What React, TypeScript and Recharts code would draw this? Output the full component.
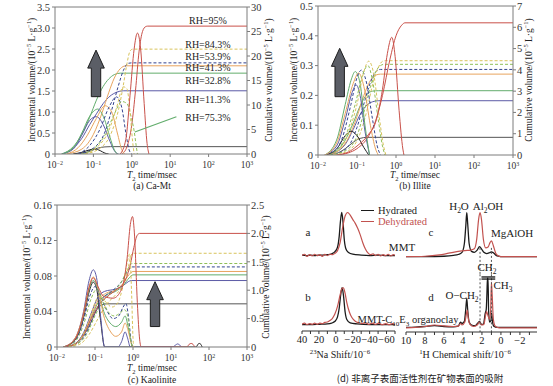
import React from "react";
import {
  ComposedChart,
  Line,
  XAxis,
  YAxis,
  ReferenceLine,
  ReferenceDot,
  Legend,
} from "recharts";

type Pt = [number, number];

// ---------- shared T2 axis ----------
const t2Ticks = [0.01, 0.1, 1, 10, 100, 1000];

// ---------- (a) Ca-Mt ----------
const caIncTicks = [0, 0.5, 1, 1.5, 2, 2.5, 3, 3.5];
const caCumTicks = [0, 5, 10, 15, 20, 25, 30];

const caInc0: Pt[] = [[0.03, 0], [0.05, 0.04], [0.08, 0.1], [0.11, 0.12], [0.15, 0.08], [0.2, 0.02], [0.25, 0]];
const caCum0: Pt[] = [[0.03, 0], [0.06, 0.25], [0.09, 0.7], [0.13, 1.2], [0.2, 1.45], [0.28, 1.5], [1000, 1.5]];
const caInc11: Pt[] = [[0.015, 0], [0.03, 0.12], [0.05, 0.45], [0.08, 0.8], [0.12, 0.89], [0.18, 0.7], [0.27, 0.3], [0.37, 0.05], [0.45, 0]];
const caCum11: Pt[] = [[0.015, 0], [0.03, 1.2], [0.05, 3.2], [0.08, 6], [0.12, 8.2], [0.18, 10.3], [0.27, 11.8], [0.4, 12.6], [0.6, 12.9], [1000, 12.9]];
const caInc32: Pt[] = [[0.015, 0], [0.03, 0.15], [0.05, 0.5], [0.08, 0.9], [0.13, 1.07], [0.19, 0.85], [0.27, 0.4], [0.35, 0.1], [0.42, 0]];
const caCum32: Pt[] = [[0.015, 0], [0.03, 1.5], [0.05, 4], [0.08, 7.5], [0.12, 11], [0.18, 13.8], [0.25, 15.3], [0.35, 16.2], [0.5, 16.5], [1000, 16.5]];
const caInc41: Pt[] = [[0.02, 0], [0.04, 0.15], [0.07, 0.45], [0.12, 0.85], [0.2, 1.15], [0.3, 1.0], [0.42, 0.5], [0.55, 0.1], [0.65, 0]];
const caCum41: Pt[] = [[0.02, 0], [0.05, 1], [0.1, 4], [0.17, 8.5], [0.25, 12.5], [0.35, 15.5], [0.5, 17.4], [0.7, 18], [1000, 18]];
const caInc53: Pt[] = [[0.04, 0], [0.08, 0.2], [0.15, 0.6], [0.25, 1.1], [0.4, 1.36], [0.55, 1.1], [0.7, 0.5], [0.85, 0.1], [1.0, 0]];
const caCum53: Pt[] = [[0.04, 0], [0.1, 1.2], [0.2, 4.5], [0.3, 9], [0.45, 14], [0.6, 17], [0.8, 18.5], [1, 18.6], [1000, 18.6]];
const caInc75: Pt[] = [[0.05, 0], [0.1, 0.12], [0.2, 0.45], [0.35, 0.95], [0.55, 1.25], [0.75, 1.2], [0.95, 0.9], [1.15, 0.55], [1.3, 0.2], [1.4, 0]];
const caInc84: Pt[] = [[0.06, 0], [0.12, 0.15], [0.25, 0.55], [0.4, 1.1], [0.6, 1.6], [0.75, 1.55], [0.9, 1.0], [1.05, 0.3], [1.15, 0]];
const caCum84: Pt[] = [[0.06, 0], [0.15, 1.2], [0.3, 4.5], [0.45, 9], [0.6, 14], [0.75, 18.5], [0.9, 21], [1.05, 21.4], [1000, 21.4]];
const caInc95: Pt[] = [[0.5, 0], [0.7, 0.35], [0.9, 1.4], [1.15, 2.5], [1.4, 2.88], [1.7, 2.5], [2.1, 1.2], [2.5, 0.25], [2.8, 0]];
const caCum95: Pt[] = [[0.55, 0], [0.75, 1.5], [1, 6], [1.25, 13], [1.55, 21], [1.9, 25], [2.3, 26], [2.6, 26.1], [1000, 26.1]];

const caRhLabels = ["RH=95%", "RH=84.3%", "RH=53.9%", "RH=41.3%", "RH=32.8%", "RH=11.3%", "RH=75.3%"];

// ---------- (b) Illite ----------
const ilIncTicks = [0, 0.1, 0.2, 0.3, 0.4, 0.5];
const ilCumTicks = [0, 1, 2, 3, 4, 5, 6, 7];

const ilInc0: Pt[] = [[0.015, 0], [0.03, 0.02], [0.05, 0.065], [0.07, 0.08], [0.1, 0.065], [0.15, 0.025], [0.2, 0]];
const ilCum0: Pt[] = [[0.015, 0], [0.03, 0.08], [0.05, 0.3], [0.08, 0.6], [0.12, 0.78], [0.18, 0.83], [1000, 0.83]];
const ilInc11: Pt[] = [[0.015, 0], [0.03, 0.03], [0.05, 0.12], [0.075, 0.21], [0.095, 0.235], [0.12, 0.2], [0.16, 0.08], [0.21, 0]];
const ilCum11: Pt[] = [[0.015, 0], [0.03, 0.15], [0.05, 0.5], [0.08, 1.2], [0.12, 1.9], [0.18, 2.35], [0.25, 2.5], [0.35, 2.55], [1000, 2.55]];
const ilInc32: Pt[] = [[0.015, 0], [0.03, 0.05], [0.05, 0.17], [0.07, 0.25], [0.09, 0.28], [0.12, 0.24], [0.16, 0.1], [0.21, 0]];
const ilCum32: Pt[] = [[0.015, 0], [0.03, 0.2], [0.05, 0.7], [0.08, 1.5], [0.12, 2.3], [0.18, 2.85], [0.25, 3.0], [0.35, 3.02], [1000, 3.02]];
const ilInc41: Pt[] = [[0.015, 0], [0.03, 0.04], [0.05, 0.14], [0.08, 0.24], [0.11, 0.275], [0.15, 0.23], [0.22, 0.1], [0.3, 0.02], [0.35, 0]];
const ilCum41: Pt[] = [[0.015, 0], [0.03, 0.15], [0.06, 0.8], [0.1, 1.8], [0.15, 2.8], [0.22, 3.5], [0.3, 3.75], [0.4, 3.8], [1000, 3.8]];
const ilInc53: Pt[] = [[0.02, 0], [0.04, 0.05], [0.07, 0.17], [0.1, 0.26], [0.13, 0.285], [0.17, 0.25], [0.25, 0.12], [0.33, 0.03], [0.4, 0]];
const ilCum53: Pt[] = [[0.02, 0], [0.04, 0.15], [0.07, 0.6], [0.1, 1.3], [0.15, 2.4], [0.22, 3.4], [0.3, 3.9], [0.4, 4.02], [1000, 4.02]];
const ilInc75: Pt[] = [[0.02, 0], [0.05, 0.06], [0.09, 0.17], [0.14, 0.27], [0.19, 0.3], [0.25, 0.25], [0.35, 0.12], [0.45, 0.03], [0.52, 0]];
const ilCum75: Pt[] = [[0.02, 0], [0.05, 0.2], [0.1, 0.9], [0.15, 2], [0.22, 3.2], [0.3, 3.9], [0.4, 4.2], [0.5, 4.26], [1000, 4.26]];
const ilInc84: Pt[] = [[0.025, 0], [0.05, 0.05], [0.1, 0.17], [0.15, 0.28], [0.2, 0.315], [0.27, 0.27], [0.37, 0.13], [0.48, 0.03], [0.55, 0]];
const ilCum84: Pt[] = [[0.025, 0], [0.06, 0.2], [0.12, 1], [0.18, 2.1], [0.25, 3.3], [0.35, 4.1], [0.45, 4.4], [0.55, 4.43], [1000, 4.43]];
const ilInc95: Pt[] = [[0.03, 0], [0.06, 0.01], [0.1, 0.03], [0.2, 0.07], [0.3, 0.11], [0.45, 0.22], [0.6, 0.34], [0.78, 0.395], [0.95, 0.33], [1.2, 0.15], [1.5, 0.02], [1.6, 0]];
const ilCum95: Pt[] = [[0.03, 0], [0.06, 0.1], [0.1, 0.3], [0.2, 0.9], [0.3, 1.6], [0.45, 2.8], [0.7, 4.5], [1, 5.6], [1.4, 6.1], [1.7, 6.21], [1000, 6.21]];

// ---------- (c) Kaolinite ----------
const kaIncTicks = [0, 0.04, 0.08, 0.12, 0.16];
const kaCumTicks = [0, 0.5, 1, 1.5, 2, 2.5];

const kaInc0: Pt[] = [[0.015, 0], [0.03, 0.008], [0.05, 0.033], [0.07, 0.062], [0.09, 0.073], [0.11, 0.066], [0.14, 0.03], [0.18, 0], [46, 0], [51, 0.003], [56, 0.004], [61, 0.003], [66, 0]];
const kaCum0: Pt[] = [[0.015, 0], [0.03, 0.05], [0.05, 0.2], [0.08, 0.45], [0.11, 0.65], [0.15, 0.74], [0.2, 0.76], [1000, 0.76]];
const kaInc11: Pt[] = [[0.015, 0], [0.03, 0.01], [0.05, 0.04], [0.07, 0.075], [0.09, 0.087], [0.11, 0.078], [0.14, 0.035], [0.18, 0], [0.4, 0], [0.5, 0.006], [0.62, 0.017], [0.72, 0.01], [0.85, 0], [11, 0], [13, 0.002], [15, 0.0035], [17, 0.002], [19, 0]];
const kaCum11: Pt[] = [[0.015, 0], [0.03, 0.06], [0.05, 0.25], [0.08, 0.6], [0.12, 0.88], [0.18, 0.98], [0.35, 1.02], [0.55, 1.08], [0.75, 1.15], [0.9, 1.17], [1000, 1.17]];
const kaInc32: Pt[] = [[0.015, 0], [0.03, 0.009], [0.05, 0.036], [0.07, 0.065], [0.09, 0.075], [0.12, 0.065], [0.17, 0.04], [0.25, 0.027], [0.35, 0.023], [0.5, 0.028], [0.62, 0.035], [0.75, 0.022], [0.9, 0.005], [1, 0]];
const kaCum32: Pt[] = [[0.015, 0], [0.03, 0.05], [0.05, 0.22], [0.08, 0.52], [0.12, 0.78], [0.2, 0.92], [0.35, 0.98], [0.55, 1.08], [0.8, 1.22], [1, 1.27], [1000, 1.27]];
const kaInc41: Pt[] = [[0.015, 0], [0.03, 0.01], [0.05, 0.038], [0.07, 0.068], [0.09, 0.079], [0.12, 0.066], [0.17, 0.035], [0.25, 0.018], [0.35, 0.012], [0.5, 0.017], [0.62, 0.027], [0.75, 0.018], [0.9, 0.004], [1, 0]];
const kaCum41: Pt[] = [[0.015, 0], [0.03, 0.05], [0.05, 0.22], [0.08, 0.55], [0.12, 0.82], [0.2, 0.95], [0.35, 1.0], [0.55, 1.12], [0.8, 1.28], [1, 1.33], [1000, 1.33]];
const kaInc53: Pt[] = [[0.015, 0], [0.03, 0.007], [0.05, 0.03], [0.07, 0.055], [0.1, 0.068], [0.14, 0.058], [0.2, 0.042], [0.3, 0.032], [0.42, 0.035], [0.55, 0.045], [0.65, 0.049], [0.78, 0.03], [0.9, 0.005], [0.95, 0]];
const kaCum53: Pt[] = [[0.015, 0], [0.03, 0.04], [0.06, 0.25], [0.1, 0.6], [0.16, 0.85], [0.3, 1.0], [0.5, 1.15], [0.7, 1.32], [0.95, 1.41], [1000, 1.41]];
const kaInc75: Pt[] = [[0.015, 0], [0.03, 0.006], [0.05, 0.025], [0.08, 0.055], [0.11, 0.065], [0.15, 0.055], [0.22, 0.04], [0.32, 0.035], [0.45, 0.038], [0.6, 0.042], [0.72, 0.035], [0.85, 0.01], [0.95, 0]];
const kaCum75: Pt[] = [[0.015, 0], [0.03, 0.04], [0.06, 0.22], [0.1, 0.55], [0.16, 0.8], [0.3, 0.97], [0.5, 1.15], [0.7, 1.35], [0.95, 1.47], [1000, 1.47]];
const kaInc84: Pt[] = [[0.02, 0], [0.04, 0.008], [0.07, 0.03], [0.1, 0.05], [0.13, 0.058], [0.18, 0.052], [0.28, 0.045], [0.4, 0.05], [0.55, 0.07], [0.7, 0.095], [0.82, 0.105], [0.92, 0.06], [1, 0.01], [1.05, 0]];
const kaCum84: Pt[] = [[0.02, 0], [0.04, 0.05], [0.07, 0.22], [0.12, 0.5], [0.2, 0.75], [0.35, 0.92], [0.55, 1.1], [0.75, 1.4], [0.9, 1.62], [1.0, 1.65], [1000, 1.65]];
const kaInc95: Pt[] = [[0.015, 0], [0.03, 0.009], [0.05, 0.037], [0.07, 0.067], [0.09, 0.078], [0.12, 0.068], [0.17, 0.057], [0.3, 0.055], [0.5, 0.065], [0.7, 0.1], [0.85, 0.138], [0.97, 0.147], [1.1, 0.125], [1.3, 0.05], [1.5, 0.008], [1.65, 0], [26, 0], [30, 0.003], [34, 0.004], [38, 0.003], [42, 0]];
const kaCum95: Pt[] = [[0.015, 0], [0.03, 0.05], [0.05, 0.22], [0.08, 0.5], [0.12, 0.72], [0.2, 0.88], [0.35, 1.0], [0.6, 1.15], [0.85, 1.45], [1.05, 1.75], [1.3, 1.97], [1.5, 2.0], [1000, 2.0]];

// ---------- (d) NMR spectra ----------
const naTicks = [40, 30, 20, 10, 0, -10, -20, -30, -40, -50, -60, -70];
const hTicks = [10, 9, 8, 7, 6, 5, 4, 3, 2, 1, 0, -1, -2, -3];
const legendOrder = ["Hydrated", "Dehydrated"];

const naMmtHyd: Pt[] = [[40, 0.02], [35, 0.01], [30, 0.02], [25, 0.01], [20, 0.02], [15, 0.02], [10, 0.03], [5, 0.05], [1, 0.1], [-2, 0.2], [-4, 0.45], [-5.5, 0.8], [-7, 1.0], [-8.5, 0.78], [-10, 0.38], [-12, 0.16], [-15, 0.08], [-20, 0.04], [-30, 0.02], [-40, 0.01], [-50, 0.02], [-60, 0.01], [-70, 0.01]];
const naMmtDeh: Pt[] = [[40, 0.01], [37, 0.04], [34, -0.01], [31, 0.03], [28, 0.0], [25, 0.04], [22, 0.01], [19, 0.03], [16, -0.01], [13, 0.04], [10, 0.01], [7, 0.04], [4, 0.03], [1, 0.06], [-2, 0.12], [-5, 0.3], [-8, 0.65], [-11, 0.92], [-14, 1.0], [-17, 0.94], [-20, 0.84], [-23, 0.75], [-26, 0.63], [-29, 0.48], [-32, 0.3], [-35, 0.16], [-38, 0.07], [-41, 0.03], [-44, 0.05], [-47, 0.01], [-50, 0.04], [-53, 0.0], [-56, 0.03], [-59, 0.01], [-62, 0.04], [-65, 0.0], [-68, 0.03], [-70, 0.02]];
const naOrgHyd: Pt[] = [[40, 0.01], [30, 0.01], [20, 0.02], [10, 0.03], [5, 0.05], [1, 0.1], [-2, 0.22], [-4, 0.45], [-6, 0.85], [-7.5, 1.0], [-9, 0.8], [-11, 0.35], [-13, 0.15], [-17, 0.06], [-25, 0.03], [-40, 0.01], [-55, 0.01], [-70, 0.01]];
const naOrgDeh: Pt[] = [[40, 0.02], [37, 0.05], [34, 0.01], [31, 0.04], [28, 0.02], [25, 0.05], [22, 0.02], [19, 0.05], [16, 0.04], [13, 0.07], [10, 0.08], [7, 0.12], [4, 0.18], [1, 0.3], [-2, 0.5], [-5, 0.8], [-7, 0.97], [-9, 1.0], [-11, 0.85], [-13, 0.6], [-16, 0.35], [-19, 0.2], [-23, 0.1], [-27, 0.06], [-31, 0.04], [-35, 0.06], [-39, 0.02], [-43, 0.05], [-47, 0.02], [-51, 0.05], [-55, 0.01], [-59, 0.04], [-63, 0.01], [-67, 0.04], [-70, 0.02]];

const hMmtHyd: Pt[] = [[10, 0], [8, 0], [6, 0.01], [5, 0.03], [4.5, 0.05], [4.1, 0.1], [3.85, 0.3], [3.7, 0.7], [3.6, 1.0], [3.5, 0.75], [3.35, 0.3], [3.1, 0.12], [2.8, 0.1], [2.5, 0.15], [2.25, 0.23], [2.05, 0.18], [1.8, 0.1], [1.5, 0.07], [1.2, 0.09], [1.0, 0.11], [0.8, 0.09], [0.5, 0.03], [0.2, 0.01], [0, 0], [-3.8, 0]];
const hMmtDeh: Pt[] = [[10, 0], [8, 0.01], [6.5, 0.04], [5.5, 0.08], [4.5, 0.12], [3.8, 0.14], [3.2, 0.15], [2.8, 0.18], [2.55, 0.4], [2.35, 0.85], [2.2, 1.0], [2.05, 0.85], [1.85, 0.4], [1.6, 0.2], [1.35, 0.22], [1.15, 0.32], [1.0, 0.36], [0.8, 0.25], [0.55, 0.08], [0.3, 0.02], [0, 0], [-3.8, 0]];
const hOrgHyd: Pt[] = [[10, 0.02], [9, 0.03], [8, 0.05], [7, 0.08], [6, 0.05], [5, 0.04], [4.5, 0.06], [4.25, 0.2], [4.1, 0.15], [3.85, 0.22], [3.7, 0.65], [3.6, 1.0], [3.5, 0.6], [3.35, 0.2], [3.1, 0.1], [2.7, 0.08], [2.4, 0.18], [2.25, 0.22], [2.05, 0.12], [1.85, 0.12], [1.65, 0.5], [1.55, 0.62], [1.47, 1.2], [1.42, 1.68], [1.36, 1.68], [1.3, 0.6], [1.2, 0.2], [1.05, 0.25], [0.98, 0.5], [0.9, 0.25], [0.75, 0.06], [0.4, 0.02], [0, 0.02], [-3.8, 0.02]];
const hOrgDeh: Pt[] = [[10, 0.0], [9, 0.02], [8, 0.05], [7, 0.1], [6, 0.07], [5, 0.05], [4.5, 0.06], [4.25, 0.15], [4.1, 0.1], [3.8, 0.2], [3.65, 0.45], [3.55, 0.6], [3.45, 0.35], [3.25, 0.12], [2.9, 0.05], [2.5, 0.1], [2.25, 0.2], [2.05, 0.1], [1.8, 0.12], [1.6, 0.45], [1.5, 0.55], [1.4, 0.45], [1.2, 0.3], [1.08, 0.6], [1.0, 1.55], [0.92, 1.1], [0.8, 0.3], [0.6, 0.06], [0.3, 0.01], [0, 0], [-3.8, 0]];

// ---------- styles ----------
const serif = "'Liberation Serif', 'DejaVu Serif', serif";
const axisGray = "#7d7d7d";
const hydColor = "#1b1b1b";
const dehColor = "#c2524f";

const rhStyle: Record<string, { stroke: string; dash?: string }> = {
  "95": { stroke: "#c9514a" },
  "84.3": { stroke: "#d8c35c", dash: "3 2" },
  "75.3": { stroke: "#8fbf58", dash: "3 2" },
  "53.9": { stroke: "#34448f", dash: "3 2" },
  "41.3": { stroke: "#e8a45e" },
  "32.8": { stroke: "#62ad6c" },
  "11.3": { stroke: "#5b5aa6" },
  "0": { stroke: "#222222" },
};

type Series = { rh: string; inc: Pt[]; cum?: Pt[] };

const caSeries: Series[] = [
  { rh: "0", inc: caInc0, cum: caCum0 },
  { rh: "11.3", inc: caInc11, cum: caCum11 },
  { rh: "32.8", inc: caInc32, cum: caCum32 },
  { rh: "41.3", inc: caInc41, cum: caCum41 },
  { rh: "53.9", inc: caInc53, cum: caCum53 },
  { rh: "75.3", inc: caInc75 },
  { rh: "84.3", inc: caInc84, cum: caCum84 },
  { rh: "95", inc: caInc95, cum: caCum95 },
];
const ilSeries: Series[] = [
  { rh: "0", inc: ilInc0, cum: ilCum0 },
  { rh: "11.3", inc: ilInc11, cum: ilCum11 },
  { rh: "32.8", inc: ilInc32, cum: ilCum32 },
  { rh: "41.3", inc: ilInc41, cum: ilCum41 },
  { rh: "53.9", inc: ilInc53, cum: ilCum53 },
  { rh: "75.3", inc: ilInc75, cum: ilCum75 },
  { rh: "84.3", inc: ilInc84, cum: ilCum84 },
  { rh: "95", inc: ilInc95, cum: ilCum95 },
];
const kaSeries: Series[] = [
  { rh: "0", inc: kaInc0, cum: kaCum0 },
  { rh: "11.3", inc: kaInc11, cum: kaCum11 },
  { rh: "32.8", inc: kaInc32, cum: kaCum32 },
  { rh: "41.3", inc: kaInc41, cum: kaCum41 },
  { rh: "53.9", inc: kaInc53, cum: kaCum53 },
  { rh: "75.3", inc: kaInc75, cum: kaCum75 },
  { rh: "84.3", inc: kaInc84, cum: kaCum84 },
  { rh: "95", inc: kaInc95, cum: kaCum95 },
];

const t2Rows = (pts: Pt[]) => pts.map(([t, v]) => ({ t, v }));
const shiftRows = (pts: Pt[]) => pts.map(([s, v]) => ({ s, v }));
const fmt = (d: number) => (v: number) => (v === 0 ? "0" : v.toFixed(d));
const minus = (v: number) => (v < 0 ? `−${-v}` : `${v}`);

const PowTick = (p: any) => {
  const e = Math.round(Math.log10(p.payload.value));
  return (
    <text x={p.x} y={p.y + 9} textAnchor="middle" fontSize={9.5} fill="#333">
      10
      <tspan dy={-3.5} fontSize={6}>{minus(e)}</tspan>
    </text>
  );
};

const shiftTick = (step: number) => (p: any) => {
  const v = p.payload.value;
  if (v % step !== 0) return <g />;
  return (
    <text x={p.x} y={p.y + 7} textAnchor="middle" fontSize={10.5} fill="#222">
      {minus(v)}
    </text>
  );
};

// gray block arrow drawn along a vertical reference segment
const BlockArrow = (p: any) => {
  const cx = p.x1;
  const top = Math.min(p.y1, p.y2);
  const bot = Math.max(p.y1, p.y2);
  const hw = 8.3, sw = 4.7, hl = 18;
  const pts = [
    [cx, top], [cx + hw, top + hl], [cx + sw, top + hl], [cx + sw, bot],
    [cx - sw, bot], [cx - sw, top + hl], [cx - hw, top + hl],
  ].map((q) => q.join(",")).join(" ");
  return <polygon points={pts} fill="#5b5e66" stroke="#1e1e1e" strokeWidth={1} />;
};

function T2Panel({ box, margin, series, incTicks, incDigits, cumTicks, cumDigits, children }: any) {
  return (
    <div style={{ position: "absolute", left: box[0], top: box[1] }}>
      <ComposedChart width={box[2]} height={box[3]} margin={margin}>
        <XAxis
          type="number"
          dataKey="t"
          scale="log"
          domain={[0.01, 1000]}
          allowDataOverflow
          ticks={t2Ticks}
          interval={0}
          height={20}
          tickSize={3}
          stroke={axisGray}
          tick={PowTick}
        />
        <YAxis
          yAxisId="inc"
          type="number"
          domain={[0, incTicks[incTicks.length - 1]]}
          allowDataOverflow
          ticks={incTicks}
          interval={0}
          width={40}
          tickSize={3}
          stroke={axisGray}
          tickFormatter={fmt(incDigits)}
          tick={{ fontSize: 10.5, fill: "#333" }}
        />
        <YAxis
          yAxisId="cum"
          orientation="right"
          type="number"
          domain={[0, cumTicks[cumTicks.length - 1]]}
          allowDataOverflow
          ticks={cumTicks}
          interval={0}
          width={28}
          tickSize={3}
          tickMargin={1}
          stroke={axisGray}
          tickFormatter={fmt(cumDigits)}
          tick={{ fontSize: 10.5, fill: "#333" }}
        />
        <ReferenceLine yAxisId="inc" y={incTicks[incTicks.length - 1]} stroke={axisGray} />
        {series
          .filter((s: Series) => s.cum)
          .map((s: Series) => (
            <Line
              key={"c" + s.rh}
              yAxisId="cum"
              data={t2Rows(s.cum as Pt[])}
              dataKey="v"
              type="monotone"
              dot={false}
              isAnimationActive={false}
              stroke={s.rh === "0" ? "#555" : rhStyle[s.rh].stroke}
              strokeDasharray={rhStyle[s.rh].dash}
              strokeWidth={1}
            />
          ))}
        {series.map((s: Series) => (
          <Line
            key={"i" + s.rh}
            yAxisId="inc"
            data={t2Rows(s.inc)}
            dataKey="v"
            type="monotone"
            dot={false}
            isAnimationActive={false}
            stroke={rhStyle[s.rh].stroke}
            strokeDasharray={rhStyle[s.rh].dash}
            strokeWidth={1}
          />
        ))}
        {children}
      </ComposedChart>
    </div>
  );
}

function SpecChart({ box, margin, xDomain, yDomain, ticks, step, showAxis, hyd, deh, children }: any) {
  return (
    <div style={{ position: "absolute", left: box[0], top: box[1] }}>
      <ComposedChart width={box[2]} height={box[3]} margin={margin}>
        <XAxis
          type="number"
          dataKey="s"
          domain={xDomain}
          reversed
          allowDataOverflow
          hide={!showAxis}
          ticks={ticks}
          interval={0}
          height={20}
          tickSize={3}
          stroke="#333"
          tick={shiftTick(step)}
        />
        <YAxis hide type="number" domain={yDomain} allowDataOverflow />
        <Line name="Hydrated" data={shiftRows(hyd)} dataKey="v" type="monotone" dot={false} isAnimationActive={false} stroke={hydColor} strokeWidth={1.3} />
        <Line name="Dehydrated" data={shiftRows(deh)} dataKey="v" type="monotone" dot={false} isAnimationActive={false} stroke={dehColor} strokeWidth={1.2} />
        {children}
      </ComposedChart>
    </div>
  );
}

const SpecLegend = (p: any) => {
  const items = [...(p.payload || [])].sort(
    (a: any, b: any) => legendOrder.indexOf(a.value) - legendOrder.indexOf(b.value)
  );
  return (
    <div style={{ fontSize: 10.5, lineHeight: "11px", fontFamily: serif }}>
      {items.map((e: any) => (
        <div key={e.value} style={{ display: "flex", alignItems: "center", height: 11, color: e.color }}>
          <span style={{ width: 13, height: 0, borderTop: `1.5px solid ${e.color}`, marginRight: 4 }} />
          {e.value}
        </div>
      ))}
    </div>
  );
};

const Sup = ({ children }: any) => <sup style={{ fontSize: "0.68em", lineHeight: 0 }}>{children}</sup>;
const Sub = ({ children }: any) => <sub style={{ fontSize: "0.68em", lineHeight: 0 }}>{children}</sub>;

const Note = ({ x, y, size = 10, rot = false, color, children }: any) => (
  <div
    style={{
      position: "absolute",
      left: x,
      top: y,
      fontSize: size,
      lineHeight: 1,
      whiteSpace: "nowrap",
      color,
      transform: `translate(-50%, -50%)${rot ? " rotate(-90deg)" : ""}`,
    }}
  >
    {children}
  </div>
);

const volTitle = (kind: string) => (
  <>
    {kind} volume/(10<Sup>−5</Sup> L·g<Sup>−1</Sup>)
  </>
);
const t2Title = (
  <>
    <i>T</i>
    <Sub>2</Sub> time/msec
  </>
);

// annotation anchors (data coordinates)
const caLabelT2 = 96;
const caLabelCum = [27.3, 22.4, 19.9, 17.6, 15.1, 11.2, 7.4];

export default function App() {
  return (
    <div
      style={{
        position: "absolute",
        left: 0,
        top: 0,
        width: 553,
        height: 386,
        background: "#fff",
        overflow: "hidden",
        fontFamily: serif,
        color: "#222",
      }}
    >
      <T2Panel
        box={[0, 0, 280, 190]}
        margin={{ top: 7, right: 5, bottom: 16, left: 15 }}
        series={caSeries}
        incTicks={caIncTicks}
        incDigits={1}
        cumTicks={caCumTicks}
        cumDigits={0}
      >
        {caRhLabels.map((txt, i) => (
          <ReferenceDot
            key={txt}
            yAxisId="cum"
            x={caLabelT2}
            y={caLabelCum[i]}
            r={0}
            fill="none"
            stroke="none"
            label={{ value: txt, position: "center", fontSize: 10, fill: "#222" }}
          />
        ))}
        <ReferenceLine yAxisId="cum" segment={[{ x: 1.2, y: 4.5 }, { x: 14.5, y: 7.6 }]} stroke="#62ad6c" strokeWidth={1.2} />
        <ReferenceLine yAxisId="cum" segment={[{ x: 0.117, y: 11.7 }, { x: 0.117, y: 21.2 }]} shape={BlockArrow} />
      </T2Panel>

      <T2Panel
        box={[275, 0, 278, 190]}
        margin={{ top: 6, right: 12, bottom: 15, left: 3 }}
        series={ilSeries}
        incTicks={ilIncTicks}
        incDigits={1}
        cumTicks={ilCumTicks}
        cumDigits={0}
      >
        <ReferenceLine yAxisId="cum" segment={[{ x: 0.036, y: 2.74 }, { x: 0.036, y: 5.01 }]} shape={BlockArrow} />
      </T2Panel>

      <T2Panel
        box={[0, 195, 280, 190]}
        margin={{ top: 10, right: 5, bottom: 18, left: 17 }}
        series={kaSeries}
        incTicks={kaIncTicks}
        incDigits={2}
        cumTicks={kaCumTicks}
        cumDigits={1}
      >
        <ReferenceLine yAxisId="cum" segment={[{ x: 3.8, y: 0.36 }, { x: 3.8, y: 1.15 }]} shape={BlockArrow} />
      </T2Panel>

      {/* (d) NMR spectra */}
      <SpecChart
        box={[290, 200, 120, 65]}
        margin={{ top: 10.3, right: 15, bottom: 2.5, left: 12 }}
        xDomain={[-70, 40]}
        yDomain={[-0.15, 1.05]}
        hyd={naMmtHyd}
        deh={naMmtDeh}
      >
        <Legend
          layout="vertical"
          align="center"
          verticalAlign="middle"
          content={SpecLegend}
          wrapperStyle={{ left: 71, top: 5, width: 80, height: 22 }}
        />
      </SpecChart>
      <SpecChart
        box={[290, 276, 120, 80]}
        margin={{ top: 8, right: 15, bottom: 5, left: 12 }}
        xDomain={[-70, 40]}
        yDomain={[-0.16, 1.1]}
        ticks={naTicks}
        step={20}
        showAxis
        hyd={naOrgHyd}
        deh={naOrgDeh}
      />
      <SpecChart
        box={[400, 200, 153, 80]}
        margin={{ top: 8.3, right: 16, bottom: 5.7, left: 6 }}
        xDomain={[-3.8, 10]}
        yDomain={[-0.4, 1.1]}
        hyd={hMmtHyd}
        deh={hMmtDeh}
      >
        <ReferenceLine segment={[{ x: 2.2, y: 0.2 }, { x: 2.2, y: -0.4 }]} stroke="#555" strokeDasharray="2 2" />
        <ReferenceLine segment={[{ x: 1.0, y: 0.2 }, { x: 1.0, y: -0.4 }]} stroke="#555" strokeDasharray="2 2" />
      </SpecChart>
      <SpecChart
        box={[400, 266, 153, 90]}
        margin={{ top: 8.3, right: 16, bottom: 4, left: 6 }}
        xDomain={[-3.8, 10]}
        yDomain={[-0.136, 1.81]}
        ticks={hTicks}
        step={2}
        showAxis
        hyd={hOrgHyd}
        deh={hOrgDeh}
      >
        <ReferenceLine segment={[{ x: 2.2, y: 1.81 }, { x: 2.2, y: -0.136 }]} stroke="#555" strokeDasharray="2 2" />
        <ReferenceLine segment={[{ x: 1.0, y: 1.81 }, { x: 1.0, y: -0.136 }]} stroke="#555" strokeDasharray="2 2" />
        <ReferenceLine segment={[{ x: 2.05, y: 1.72 }, { x: 0.6, y: 1.72 }]} stroke="#111" strokeWidth={1.3} />
        <ReferenceLine segment={[{ x: 2.05, y: 1.65 }, { x: 0.6, y: 1.65 }]} stroke="#111" strokeWidth={1.3} />
      </SpecChart>

      {/* axis titles and captions */}
      <Note x={33} y={80} size={9.5} rot>{volTitle("Incremental")}</Note>
      <Note x={270} y={80} size={9.5} rot>{volTitle("Cumulative")}</Note>
      <Note x={152} y={176} size={9.5}>{t2Title}</Note>
      <Note x={152} y={186.5} size={9.5}>(a) Ca-Mt</Note>

      <Note x={295} y={80} size={9.5} rot>{volTitle("Incremental")}</Note>
      <Note x={530} y={80} size={9.5} rot>{volTitle("Cumulative")}</Note>
      <Note x={415} y={176} size={9.5}>{t2Title}</Note>
      <Note x={415} y={186.5} size={9.5}>(b) Illite</Note>

      <Note x={28} y={277} size={9.5} rot>{volTitle("Incremental")}</Note>
      <Note x={267} y={277} size={9.5} rot>{volTitle("Cumulative")}</Note>
      <Note x={152} y={369} size={9.5}>{t2Title}</Note>
      <Note x={152} y={380.5} size={9.5}>(c) Kaolinite</Note>

      <Note x={308} y={232} size={11}>a</Note>
      <Note x={308} y={297} size={11}>b</Note>
      <Note x={431} y={232} size={11}>c</Note>
      <Note x={431} y={297} size={11}>d</Note>
      <Note x={402} y={247} size={11}>MMT</Note>
      <Note x={408} y={320} size={10.5}>
        MMT-C<Sub>10</Sub>E<Sub>3</Sub> organoclay
      </Note>
      <Note x={459} y={206} size={11}>
        H<Sub>2</Sub>O
      </Note>
      <Note x={488} y={206} size={11}>
        Al<Sub>2</Sub>OH
      </Note>
      <Note x={512} y={233} size={11}>MgAlOH</Note>
      <Note x={487} y={267} size={11}>
        CH<Sub>2</Sub>
      </Note>
      <Note x={503} y={285} size={11}>
        CH<Sub>3</Sub>
      </Note>
      <Note x={462} y={295} size={11}>
        O−CH<Sub>2</Sub>
      </Note>
      <Note x={340} y={355} size={10}>
        <Sup>23</Sup>Na Shift/10<Sup>−6</Sup>
      </Note>
      <Note x={465} y={355} size={10}>
        <Sup>1</Sup>H Chemical shift/10<Sup>−6</Sup>
      </Note>
      <Note x={420} y={379} size={9.5}>
        <span style={{ fontFamily: "'Noto Sans CJK SC', sans-serif" }}>(d) 非离子表面活性剂在矿物表面的吸附</span>
      </Note>
    </div>
  );
}
